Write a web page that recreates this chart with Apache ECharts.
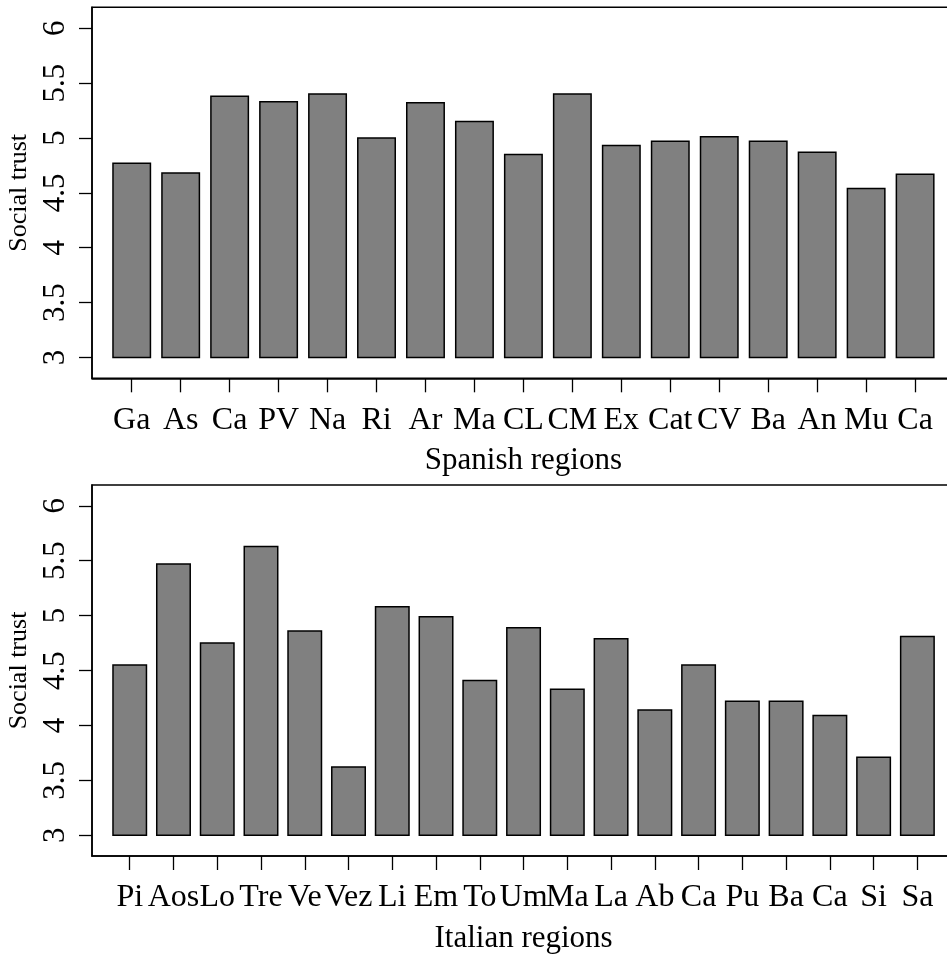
<!DOCTYPE html>
<html>
<head>
<meta charset="utf-8">
<script src="https://cdn.jsdelivr.net/npm/echarts@6/dist/echarts.min.js"></script>
<style>
html,body{margin:0;padding:0;background:#fff;}
#chart{width:947px;height:956px;}
</style>
</head>
<body>
<div id="chart"></div>
<script>
// ---- data ----
const spainRegions = ['Ga','As','Ca','PV','Na','Ri','Ar','Ma','CL','CM','Ex','Cat','CV','Ba','An','Mu','Ca'];
const spainTrust   = [4.77,4.68,5.38,5.33,5.40,5.00,5.32,5.15,4.85,5.40,4.93,4.97,5.01,4.97,4.87,4.54,4.67];
const italyRegions = ['Pi','Aos','Lo','Tre','Ve','Vez','Li','Em','To','Um','Ma','La','Ab','Ca','Pu','Ba','Ca','Si','Sa'];
const italyTrust   = [4.55,5.47,4.75,5.63,4.86,3.62,5.08,4.99,4.41,4.89,4.33,4.79,4.14,4.55,4.22,4.22,4.09,3.71,4.81];
const yTicks = [3,3.5,4,4.5,5,5.5,6];
const barBase = 3;
const yTitle = 'Social trust';
const xTitleTop = 'Spanish regions';
const xTitleBottom = 'Italian regions';

const FONT = "'Liberation Serif','Times New Roman',serif";

function renderBar(params, api){
  const x = api.value(0), v = api.value(1);
  const top = api.coord([x, v]);
  const base = api.coord([x, barBase]);
  const w = api.size([1, 0])[0] * 0.765;
  return {
    type: 'rect',
    shape: {x: top[0] - w/2, y: top[1], width: w, height: base[1] - top[1]},
    style: {fill: '#808080', stroke: '#000', lineWidth: 1.5}
  };
}

function xAxisFor(gridIndex, cats, pad, title){
  const idx = cats.map((c,i)=>i);
  return {
    type: 'value', gridIndex: gridIndex,
    min: -pad, max: cats.length - 1 + pad,
    splitLine: {show: false},
    axisLine: {show: true, onZero: false, lineStyle: {color: '#000', width: 1.5}},
    axisTick: {show: true, customValues: idx, length: 14, lineStyle: {color: '#000', width: 1.3}},
    axisLabel: {customValues: idx, formatter: v => cats[Math.round(v)], color: '#000',
      fontFamily: FONT, fontSize: 32, margin: 26, hideOverlap: false},
    name: title, nameLocation: 'middle', nameGap: 67,
    nameTextStyle: {color: '#000', fontFamily: FONT, fontSize: 31}
  };
}
function yAxisFor(gridIndex){
  return {
    type: 'value', gridIndex: gridIndex, min: 2.81, max: 6.19,
    splitLine: {show: false},
    axisLine: {show: true, onZero: false, lineStyle: {color: '#000', width: 1.5}},
    axisTick: {show: true, customValues: yTicks, length: 13, lineStyle: {color: '#000', width: 1.3}},
    axisLabel: {customValues: yTicks, rotate: 90, color: '#000', fontFamily: FONT, fontSize: 31,
      margin: 21, formatter: v => String(v)},
    name: yTitle, nameLocation: 'middle', nameGap: 50, nameRotate: 90,
    nameTextStyle: {color: '#000', fontFamily: FONT, fontSize: 26}
  };
}

const chart = echarts.init(document.getElementById('chart'), null, {renderer: 'canvas'});
chart.setOption({
  backgroundColor: '#fff',
  animation: false,
  grid: [
    {left: 92, right: -7.8, top: 7.3, height: 371, show: true, borderColor: '#000', borderWidth: 1.5,
     containLabel: false, outerBoundsMode: 'none'},
    {left: 92, right: -8.1, top: 485, height: 371, show: true, borderColor: '#000', borderWidth: 1.5,
     containLabel: false, outerBoundsMode: 'none'}
  ],
  xAxis: [
    xAxisFor(0, spainRegions, 0.811, xTitleTop),
    xAxisFor(1, italyRegions, 0.862, xTitleBottom)
  ],
  yAxis: [yAxisFor(0), yAxisFor(1)],
  series: [
    {type: 'custom', xAxisIndex: 0, yAxisIndex: 0, renderItem: renderBar,
     encode: {x: 0, y: 1}, data: spainTrust.map((v,i)=>[i,v])},
    {type: 'custom', xAxisIndex: 1, yAxisIndex: 1, renderItem: renderBar,
     encode: {x: 0, y: 1}, data: italyTrust.map((v,i)=>[i,v])}
  ]
});
</script>
</body>
</html>
